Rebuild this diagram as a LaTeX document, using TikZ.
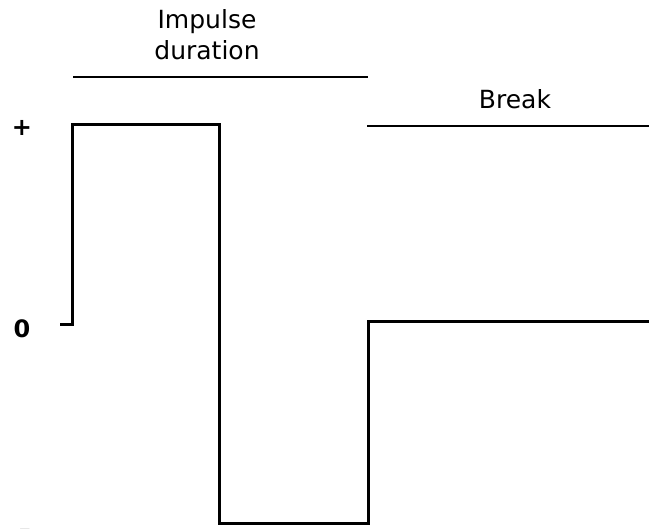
\documentclass[tikz,border=0pt]{standalone}
\usepackage{fontspec}
\setmainfont{DejaVu Sans}
\begin{document}
\begin{tikzpicture}[x=1pt,y=-1pt,
  sig/.style={line width=3pt,line join=miter},
  rule/.style={line width=1.1pt},
  lbl/.style={font=\fontsize{25}{31}\selectfont,inner sep=0pt,align=center},
  axl/.style={font=\fontsize{24}{28}\selectfont\bfseries,inner sep=0pt}]
\useasboundingbox (0,0) rectangle (649,529);
\coordinate (s0) at (60,325);
\coordinate (s1) at (72,325);
\coordinate (s2) at (72,125);
\coordinate (s3) at (219,125);
\coordinate (s4) at (219,524);
\coordinate (s5) at (368,524);
\coordinate (s6) at (368,322);
\coordinate (s7) at (649,322);
\draw[sig] (s0) -- (s1) -- (s2) -- (s3) -- (s4) -- (s5) -- (s6) -- (s7);
\coordinate (i0) at (73,77);
\coordinate (i1) at (368,77);
\draw[rule] (i0) -- (i1);
\coordinate (b0) at (367,126);
\coordinate (b1) at (649,126);
\draw[rule] (b0) -- (b1);
\node[lbl,anchor=base] (imp) at (207,60) {Impulse\\duration};
\node[lbl,anchor=base] (brk) at (515,109) {Break};
\node[axl] (plus) at (22,128) {+};
\node[axl] (zero) at (22,329) {0};
\node[axl,anchor=base] (minus) at (25,538) {–};
\end{tikzpicture}
\end{document}
